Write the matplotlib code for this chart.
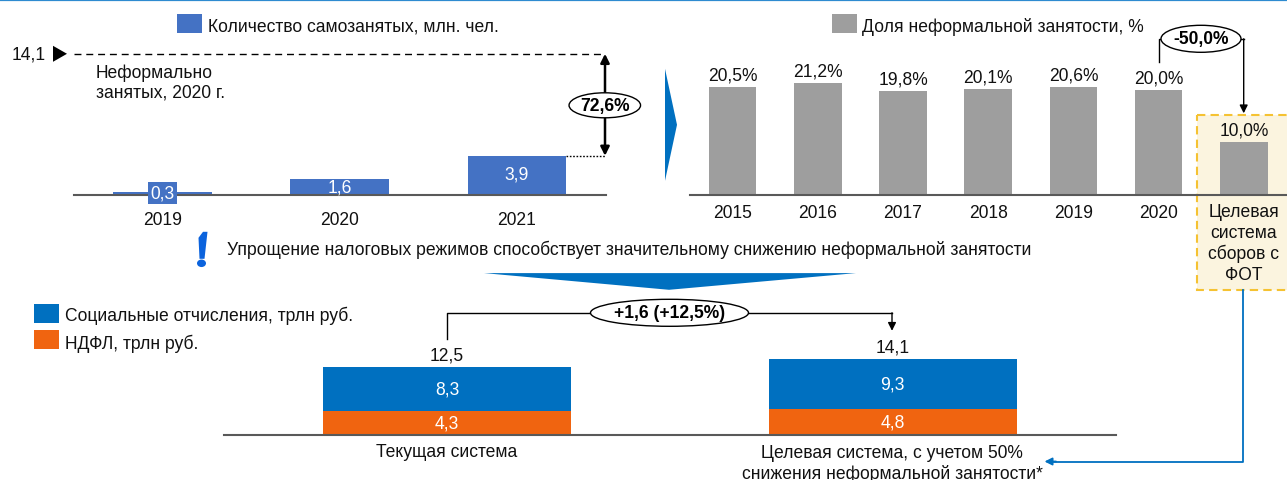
import matplotlib
matplotlib.use("Agg")
import matplotlib.pyplot as plt
from matplotlib.patches import Polygon, Ellipse, Rectangle

plt.rcParams['font.family'] = ['Liberation Sans', 'DejaVu Sans']

W, H = 1287, 481
FS = 12.65
PX = 72 / 100
DY = 0.8

# ---- data ----
self_years = ['2019', '2020', '2021']
self_values = [0.3, 1.6, 3.9]
self_labels = ['0,3', '1,6', '3,9']
informal_total = 14.1

share_cats = ['2015', '2016', '2017', '2018', '2019', '2020', 'Целевая\nсистема\nсборов с\nФОТ']
share_values = [20.5, 21.2, 19.8, 20.1, 20.6, 20.0, 10.0]
share_labels = ['20,5%', '21,2%', '19,8%', '20,1%', '20,6%', '20,0%', '10,0%']

sys_cats = ['Текущая система', 'Целевая система, с учетом 50%\nснижения неформальной занятости*']
ndfl_values = [4.3, 4.8]
social_values = [8.3, 9.3]
ndfl_labels = ['4,3', '4,8']
social_labels = ['8,3', '9,3']
sys_totals = ['12,5', '14,1']

BLUE = '#0070C0'
ORANGE = '#F06410'
SELF = '#4472C4'
GREY = '#9E9E9E'
AXIS = '#595959'
INK = '#111111'

fig = plt.figure(figsize=(W / 100, H / 100), dpi=100, facecolor='white')


def px_axes(x0, x1, ytop, ybot, zorder=2):
    ytop += DY
    ybot += DY
    a = fig.add_axes([x0 / W, 1 - ybot / H, (x1 - x0) / W, (ybot - ytop) / H], zorder=zorder)
    a.patch.set_alpha(0)
    for s in ['top', 'left', 'right']:
        a.spines[s].set_visible(False)
    a.spines['bottom'].set_color(AXIS)
    a.spines['bottom'].set_linewidth(1.5)
    a.yaxis.set_visible(False)
    return a


# overlay in pixel space for the annotations
ov = fig.add_axes([0, 0, 1, 1], zorder=1)
ov.set_xlim(0, W)
ov.set_ylim(H - DY, -DY)
ov.axis('off')
top = fig.add_axes([0, 0, 1, 1], zorder=5)
top.set_xlim(0, W)
top.set_ylim(H - DY, -DY)
top.axis('off')
top.patch.set_alpha(0)

ov.plot([0, W], [0.2, 0.2], color='#2E8BD0', lw=1.6, solid_capstyle='butt')

# yellow target box
ov.add_patch(Rectangle((1197, 115), 92, 175, fc='#FBF4DF', ec='#F5C232', lw=1.5, ls=(0, (4, 2.5))))

# chart 1
a1 = px_axes(74, 605.5, 54, 194.7)
a1.bar(range(3), self_values, width=0.556, color=SELF)
a1.set_xlim(-0.5, 2.5)
a1.set_ylim(0, informal_total)
a1.set_xticks(range(3), self_years, fontsize=FS, color=INK)
a1.tick_params(axis='x', length=0, pad=12)
lab_dy = [0, 7.5, 20]
for i, (v, t) in enumerate(zip(self_values, self_labels)):
    bbox = dict(fc=SELF, ec='none', pad=2) if i == 0 else None
    a1.annotate(t, (i, 0), xytext=(0, (lab_dy[i] + (1.5 if i == 0 else 0)) * PX), textcoords='offset points',
                ha='center', va='center', color='white', fontsize=FS, bbox=bbox)

# chart 2
a2 = px_axes(690, 1286.5, 63.7, 194.7)
a2.bar(range(7), share_values, width=0.558, color=GREY)
a2.set_xlim(-0.5, 6.5)
a2.set_ylim(0, 25)
a2.set_xticks(range(6), share_cats[:6], fontsize=FS, color=INK)
a2.tick_params(axis='x', length=0, pad=7)
for i, (v, t) in enumerate(zip(share_values, share_labels)):
    a2.annotate(t, (i, v), xytext=(0, 12 * PX), textcoords='offset points', ha='center', va='center',
                fontsize=FS, color=INK)
for line, y in zip(share_cats[6].split('\n'), [211.5, 232.5, 253.5, 274.5]):
    top.text(1243.8, y, line, ha='center', va='center', fontsize=FS, color=INK)

# chart 3
a3 = px_axes(224, 1115.5, 359, 434.8)
a3.bar(range(2), ndfl_values, width=0.556, color=ORANGE)
a3.bar(range(2), social_values, width=0.556, bottom=ndfl_values, color=BLUE)
a3.set_xlim(-0.5, 1.5)
a3.set_ylim(0, sum([ndfl_values[1], social_values[1]]))
a3.set_xticks([])
for i in range(2):
    a3.text(i, ndfl_values[i] / 2, ndfl_labels[i], ha='center', va='center', color='white', fontsize=FS)
    a3.text(i, ndfl_values[i] + social_values[i] / 2, social_labels[i], ha='center', va='center', color='white', fontsize=FS)
    a3.annotate(sys_totals[i], (i, ndfl_values[i] + social_values[i]), xytext=(0, 12 * PX), textcoords='offset points',
                ha='center', va='center', fontsize=FS, color=INK, annotation_clip=False)
top.text(446.8, 452, sys_cats[0], ha='center', va='center', fontsize=FS, color=INK)
l1, l2 = sys_cats[1].split('\n')
top.text(892.4, 452.5, l1, ha='center', va='center', fontsize=FS, color=INK)
top.text(892.4, 473, l2, ha='center', va='center', fontsize=FS, color=INK)

# legends
for x, y, c in [(177, 15, SELF), (832, 15, GREY), (34, 305, BLUE), (34, 331, ORANGE)]:
    top.add_patch(Rectangle((x, y - DY), 25, 19, fc=c, ec='none'))
top.text(208, 26, 'Количество самозанятых, млн. чел.', va='center', fontsize=FS, color=INK)
top.text(861.5, 26, 'Доля неформальной занятости, %', va='center', fontsize=FS, color=INK)
top.text(65, 315.5, 'Социальные отчисления, трлн руб.', va='center', fontsize=FS, color=INK)
top.text(65, 343, 'НДФЛ, трлн руб.', va='center', fontsize=FS, color=INK)

# informal reference
top.text(46, 54, '14,1', ha='right', va='center', fontsize=FS, color=INK)
top.add_patch(Polygon([(53, 46), (67, 54), (53, 62)], fc='black', ec='none'))
top.plot([74, 605], [54, 54], color='black', lw=1.0, ls=(0, (5, 3.5)))
top.text(95.5, 72, 'Неформально', va='center', fontsize=FS, color=INK)
top.text(95.5, 92.7, 'занятых, 2020 г.', va='center', fontsize=FS, color=INK)
top.plot([566, 605], [156, 156], color='black', lw=1.0, ls=(0, (1.2, 1.2)))
top.annotate('', xy=(605, 54), xytext=(605, 156), arrowprops=dict(arrowstyle='<|-|>', color='black', lw=1.8,
             shrinkA=0, shrinkB=0, mutation_scale=13))


def pill(cx, cy, w, h, t, fs=FS):
    top.add_patch(Ellipse((cx, cy), w, h, fc='white', ec='black', lw=1.0, zorder=6))
    top.text(cx, cy, t, ha='center', va='center', fontweight='bold', fontsize=fs, color='black', zorder=7)


pill(604.8, 105.5, 71.5, 25, '72,6%')

# -50% connector
top.plot([1158.5, 1158.5, 1170], [62, 39, 39], color='black', lw=1.0)
top.annotate('', xy=(1243.7, 113.5), xytext=(1243.7, 39), arrowprops=dict(arrowstyle='-|>', color='black', lw=1.0,
             shrinkA=0, shrinkB=0, mutation_scale=12))
top.plot([1235, 1243.7], [39, 39], color='black', lw=1.0)
pill(1201, 39, 80, 27, '-50,0%')

# +1,6 connector
top.plot([447, 447, 600], [339, 313, 313], color='black', lw=1.0)
top.plot([740, 892], [313, 313], color='black', lw=1.0)
top.annotate('', xy=(892, 331), xytext=(892, 313), arrowprops=dict(arrowstyle='-|>', color='black', lw=1.0,
             shrinkA=0, shrinkB=0, mutation_scale=12))
pill(669.5, 313, 158, 27, '+1,6 (+12,5%)')

# blue connector
top.plot([1243.4, 1243.4, 1052], [290, 461.7, 461.7], color=BLUE, lw=1.3)
top.annotate('', xy=(1044.5, 461.7), xytext=(1056, 461.7), arrowprops=dict(arrowstyle='-|>', color=BLUE, lw=1.3,
             shrinkA=0, shrinkB=0, mutation_scale=11))

# chevrons
top.add_patch(Polygon([(665, 69), (677, 125), (665, 181)], fc=BLUE, ec='none'))
top.add_patch(Polygon([(484, 273.3), (856, 273.3), (669, 290)], fc=BLUE, ec='none'))

# exclamation callout
top.add_patch(Polygon([(198.5, 238), (203, 232), (207.5, 232), (204.5, 259), (199.5, 259)], fc='#0B63DD', ec='none'))
top.add_patch(Ellipse((201.5, 263.5), 9, 7.5, fc='#0B63DD', ec='none'))
top.text(227, 249.5, 'Упрощение налоговых режимов способствует значительному снижению неформальной занятости',
         va='center', fontsize=FS, color=INK)

fig.savefig('out.png', dpi=100, facecolor='white')
